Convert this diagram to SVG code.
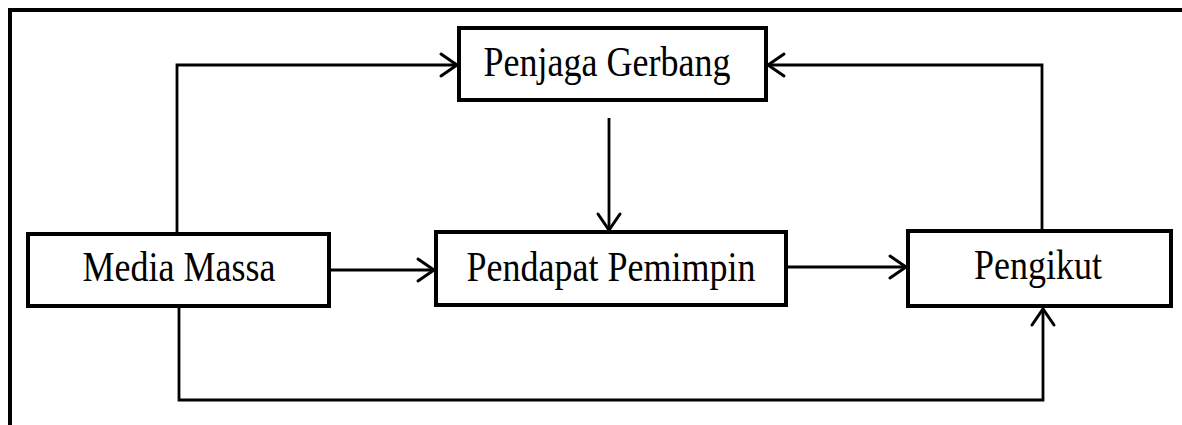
<svg xmlns="http://www.w3.org/2000/svg" width="1182" height="425" viewBox="0 0 1182 425">
  <style>
    .box { fill: #fff; stroke: #000; stroke-width: 4; }
    .lbl { font-family: "Liberation Serif", "Times New Roman", serif; font-size: 36px; fill: #000; text-anchor: middle; }
    .conn { fill: none; stroke: #000; stroke-width: 2.8; }
  </style>
  <defs>
    <marker id="arr" markerUnits="userSpaceOnUse" viewBox="-20 -14 24 28" refX="0" refY="0" markerWidth="24" markerHeight="28" orient="auto">
      <path d="M -16,-11 L 0,0 L -16,11" fill="none" stroke="#000" stroke-width="3" stroke-linecap="round" stroke-linejoin="miter"/>
    </marker>
  </defs>
  <rect width="1182" height="425" fill="#fff"/>
  <path d="M 10,425 L 10,10 L 1182,10" fill="none" stroke="#000" stroke-width="4"/>
  <g id="connectors">
    <path class="conn" d="M 177,234 L 177,65 L 457,65" marker-end="url(#arr)"/>
    <path class="conn" d="M 1042,230 L 1042,65 L 768,65" marker-end="url(#arr)"/>
    <path class="conn" d="M 609,118 L 609,230" marker-end="url(#arr)"/>
    <path class="conn" d="M 330,270 L 434,270" marker-end="url(#arr)"/>
    <path class="conn" d="M 788,267 L 906,267" marker-end="url(#arr)"/>
    <path class="conn" d="M 179,307 L 179,400 L 1043,400 L 1043,309" marker-end="url(#arr)"/>
  </g>
  <g id="penjaga-gerbang">
    <rect class="box" x="459" y="28" width="307" height="72"/>
    <text class="lbl" transform="translate(607,76) scale(1,1.15)">Penjaga Gerbang</text>
  </g>
  <g id="media-massa">
    <rect class="box" x="28" y="234" width="301" height="72"/>
    <text class="lbl" transform="translate(179,281) scale(1,1.15)">Media Massa</text>
  </g>
  <g id="pendapat-pemimpin">
    <rect class="box" x="436" y="232" width="350" height="73"/>
    <text class="lbl" transform="translate(611,281) scale(1,1.15)">Pendapat Pemimpin</text>
  </g>
  <g id="pengikut">
    <rect class="box" x="908" y="231" width="263" height="75"/>
    <text class="lbl" transform="translate(1038,279) scale(1,1.15)">Pengikut</text>
  </g>
</svg>
